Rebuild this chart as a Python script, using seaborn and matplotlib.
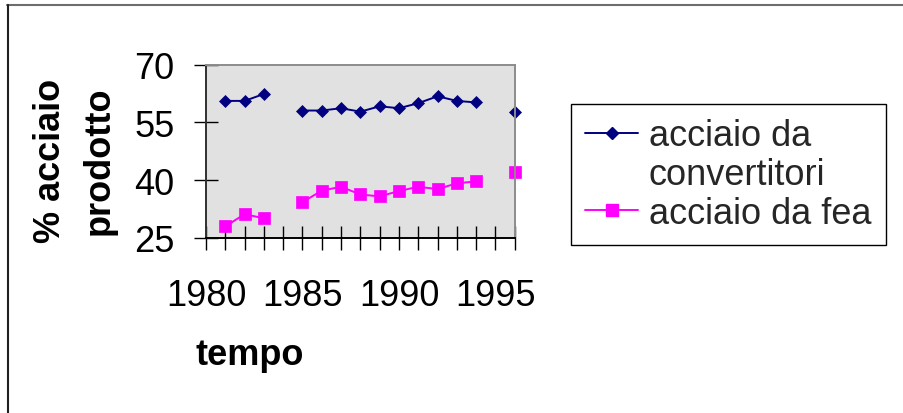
import numpy as np
import pandas as pd
import seaborn as sns
import matplotlib
matplotlib.use("Agg")
import matplotlib.pyplot as plt
from matplotlib.lines import Line2D
from matplotlib.ticker import FixedLocator, FixedFormatter

# ---- data ----
years = [1981, 1982, 1983, 1985, 1986, 1987, 1988, 1989, 1990, 1991, 1992, 1993, 1994, 1996]
convertitori = [60.6, 60.6, 62.4, 58.1, 58.1, 58.7, 57.8, 59.2, 58.7, 60.0, 61.8, 60.6, 60.2, 57.8]
fea = [28.0, 31.2, 30.1, 34.3, 37.3, 38.3, 36.3, 35.8, 37.2, 38.3, 37.7, 39.2, 39.7, 42.2]
series_names = ["acciaio da\nconvertitori", "acciaio da fea"]
x_tick_years = list(range(1980, 1997))
x_tick_labels = [str(y) if y % 5 == 0 else "" for y in x_tick_years]
y_ticks = [25, 40, 55, 70]
x_label = "tempo"
y_label = "% acciaio\nprodotto"

sns.set_theme(style="white")
plt.rcParams["font.family"] = ["Liberation Sans", "DejaVu Sans"]

NAVY = "#000080"
MAGENTA = "#FF00FF"

yrs = np.array(years)
segment = np.concatenate([[0], np.cumsum(np.diff(yrs) > 1)])
df_c = pd.DataFrame({"anno": years, "valore": convertitori, "seg": segment})
df_f = pd.DataFrame({"anno": years, "valore": fea, "seg": segment})

fig = plt.figure(figsize=(9.04, 4.14), dpi=100)
ax = fig.add_axes([206 / 904, 1 - 239 / 414, (514.7 - 206) / 904, (239 - 65.7) / 414])
ax.set_facecolor("#E1E1E1")

sns.lineplot(data=df_c, x="anno", y="valore", units="seg", estimator=None, ax=ax,
             color=NAVY, marker="D", markersize=6.3, markeredgecolor=NAVY,
             markeredgewidth=0.5, linewidth=1.4, legend=False, clip_on=False)
sns.lineplot(data=df_f, x="anno", y="valore", units="seg", estimator=None, ax=ax,
             color=MAGENTA, marker="s", markersize=9, markeredgecolor=MAGENTA,
             markeredgewidth=0.5, linewidth=1.4, legend=False, clip_on=False)

ax.set_xlim(1980, 1996)
ax.set_ylim(25, 70)
ax.xaxis.set_major_locator(FixedLocator(x_tick_years))
ax.xaxis.set_major_formatter(FixedFormatter(x_tick_labels))
ax.set_yticks(y_ticks)
ax.tick_params(axis="both", which="major", direction="inout", length=17, width=1,
               color="black", labelsize=26, labelcolor="black",
               bottom=True, left=True, top=False, right=False)
ax.tick_params(axis="y", pad=14)
ax.tick_params(axis="x", pad=20)
ax.grid(False)

for side, col in [("left", "#303030"), ("bottom", "black"), ("top", "#8C8C8C"), ("right", "#8C8C8C")]:
    ax.spines[side].set_visible(True)
    ax.spines[side].set_color(col)
    ax.spines[side].set_linewidth(1.4)

ax.set_xlabel(x_label, fontsize=26, fontweight="bold", color="black")
ax.xaxis.set_label_coords((250 - 206) / 308.7, (239 - 365) / 173.3)
ax.xaxis.label.set_va("baseline")
ax.set_ylabel(y_label, fontsize=26, fontweight="bold", color="black", linespacing=1.5)
ax.yaxis.label.set_va("center")
ax.yaxis.label.set_ha("center")
ax.yaxis.set_label_coords((75 - 206) / 308.7, (239 - 161) / 173.3)

handles = [
    Line2D([], [], color=NAVY, marker="D", markersize=6.3, markeredgecolor=NAVY, linewidth=1.4),
    Line2D([], [], linestyle="none"),
    Line2D([], [], color=MAGENTA, marker="s", markersize=9, markeredgecolor=MAGENTA, linewidth=1.4),
]
first, second = series_names[0].split("\n")
labels = [first, second, series_names[1]]
leg = fig.legend(handles, labels, loc="upper left", bbox_to_anchor=(571 / 904, 1 - 105 / 414),
                 fontsize=26, frameon=True, fancybox=False, shadow=False, framealpha=1,
                 edgecolor="black", facecolor="white", numpoints=1, handlelength=1.45,
                 handletextpad=0.3, labelspacing=0.1, borderpad=0.4, borderaxespad=0)
leg.get_frame().set_linewidth(1.0)

# outer chart border (top and left visible)
fig.add_artist(Line2D([7 / 904, 1.0], [1 - 6 / 414, 1 - 6 / 414], transform=fig.transFigure,
                      color="#6E6E6E", linewidth=1.5))
fig.add_artist(Line2D([7.5 / 904, 7.5 / 904], [0, 1 - 6 / 414], transform=fig.transFigure,
                      color="#202020", linewidth=1.5))

fig.savefig("out.png", dpi=100)
